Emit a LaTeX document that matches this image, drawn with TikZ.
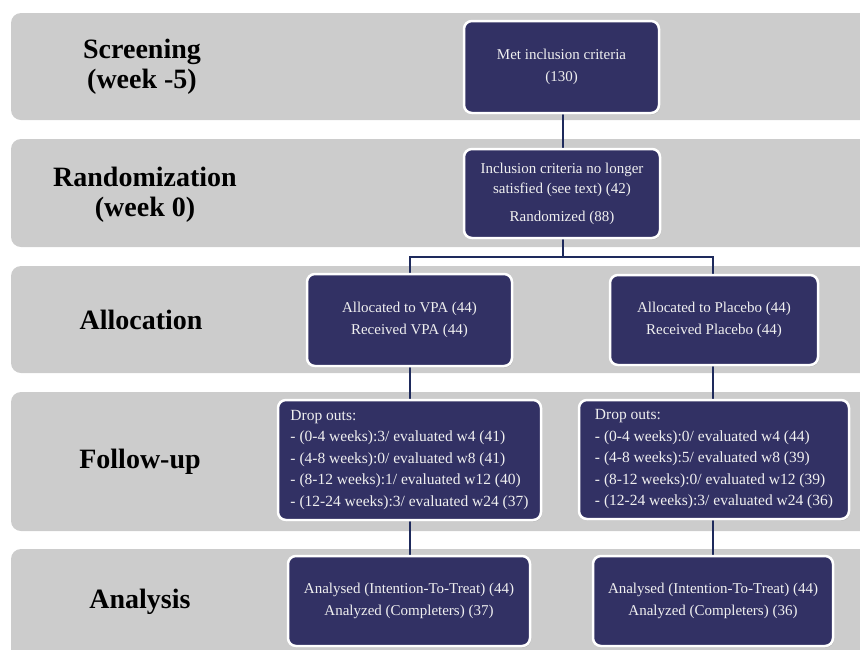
\documentclass[tikz,border=0pt]{standalone}
\usepackage{fontspec}
\setmainfont{Liberation Serif}
\usetikzlibrary{shadows}
\definecolor{navy}{RGB}{50,49,100}
\definecolor{bandgray}{RGB}{204,204,204}
\definecolor{linkblue}{RGB}{30,42,92}

\begin{document}
\begin{tikzpicture}[
  x=1pt, y=-1pt,
  band/.style={fill=bandgray, rounded corners=10pt},
  stage/.style={font=\fontsize{28}{30}\selectfont\bfseries, align=center, inner sep=0pt},
  box/.style={rectangle, rounded corners=8pt, fill=navy, draw=white, line width=2.5pt,
    text=white!94!black, font=\fontsize{15}{22}\selectfont, align=center, inner sep=4pt,
    drop shadow={shadow xshift=1pt, shadow yshift=-1.5pt, opacity=0.3}},
  dropbox/.style={box, align=left, font=\fontsize{15.5}{21.5}\selectfont},
  link/.style={draw=linkblue, line width=2pt}
]
\clip (0,0) rectangle (860,649);

% --- stage bands ---
\fill[band] (11,13) rectangle (880,120);
\fill[band] (11,139) rectangle (880,247);
\fill[band] (11,266) rectangle (880,373);
\fill[band] (11,392) rectangle (880,531);
\fill[band] (11,549) rectangle (880,680);

% --- stage labels ---
\node[stage] (scr) at (142, 67) {Screening\\(week -5)};
\node[stage] (rnd) at (145,195) {Randomization\\(week 0)};
\node[stage] (alc) at (141,320) {Allocation};
\node[stage] (fol) at (140,462) {Follow-up};
\node[stage] (ana) at (140,602) {Analysis};

% --- connectors (behind the boxes) ---
\coordinate (split) at (563,257);
\coordinate (metB) at (563,113);
\coordinate (rndT) at (563,149);
\coordinate (rndB) at (563,238);
\draw[link] (metB) -- (rndT);
\draw[link] (rndB) -- (split);
\draw[link] (410,366) |- (split) -| (713,275);
\draw[link] (410,366) -- (410,400);
\draw[link] (713,365) -- (713,400);
\draw[link] (410,520) -- (410,556);
\draw[link] (713,519) -- (713,556);

% --- boxes ---
\node[box, minimum width=195, minimum height=92] (met) at (561.5, 67) {Met inclusion criteria\\(130)};
\node[box, minimum width=196, minimum height=89] (rand) at (562,193.5)
  {Inclusion criteria no longer\\[-2pt]satisfied (see text) (42)\\[6pt]Randomized (88)};

% left arm: VPA
\node[box, minimum width=205, minimum height=92] (vpa) at (409.5,320) {Allocated to VPA (44)\\Received VPA (44)};
\node[dropbox, minimum width=263, minimum height=120] (fuv) at (409.5,460)
  {Drop outs:\\
   - (0-4 weeks):3/ evaluated w4 (41)\\
   - (4-8 weeks):0/ evaluated w8 (41)\\
   - (8-12 weeks):1/ evaluated w12 (40)\\
   - (12-24 weeks):3/ evaluated w24 (37)};
\node[box, minimum width=242, minimum height=90] (anv) at (409,601)
  {Analysed (Intention-To-Treat) (44)\\Analyzed (Completers) (37)};

% right arm: Placebo
\node[box, minimum width=208, minimum height=90] (plc) at (714,320) {Allocated to Placebo (44)\\Received Placebo (44)};
\node[dropbox, minimum width=270, minimum height=119] (fup) at (714,459.5)
  {Drop outs:\\
   - (0-4 weeks):0/ evaluated w4 (44)\\
   - (4-8 weeks):5/ evaluated w8 (39)\\
   - (8-12 weeks):0/ evaluated w12 (39)\\
   - (12-24 weeks):3/ evaluated w24 (36)};
\node[box, minimum width=240, minimum height=90] (anp) at (713,601)
  {Analysed (Intention-To-Treat) (44)\\Analyzed (Completers) (36)};

\end{tikzpicture}
\end{document}
